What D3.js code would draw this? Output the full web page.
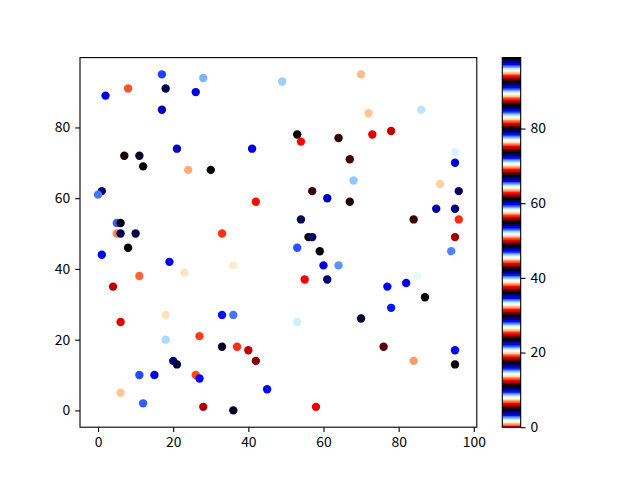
<!DOCTYPE html>
<html><head><meta charset="utf-8">
<script src="https://cdn.jsdelivr.net/npm/d3@7/dist/d3.min.js"></script>
<style>body{margin:0;background:#fff;} text{font-family:"Noto Sans CJK SC","Noto Sans",sans-serif;}</style>
</head><body>
<svg id="chart" width="640" height="480"></svg>
<script>
// data
const xs = [17,28,8,18,2,26,17,21,7,11,12,24,30,49,53,54,64,41,67,70,86,72,78,73,95,95,68,91,1,0,5,6,5,6,10,8,1,19,23,11,4,33,57,61,67,42,54,56,57,53,59,60,64,36,55,61,96,90,95,84,96,95,94,85,82,77,87,78,6,18,18,27,20,21,11,15,26,27,6,12,28,33,33,36,53,37,40,42,45,36,58,70,76,84,95,95,95];
const ys = [95,94,91,91,89,90,85,74,72,72,69,68,68,93,78,76,77,74,71,95,85,84,79,78,73,70,65,64,62,61,53,53,50,50,50,46,44,42,39,38,35,50,62,60,59,59,54,49,49,46,45,41,41,41,37,37,62,57,57,54,54,49,45,38,36,35,32,29,25,27,20,21,14,13,10,10,10,9,5,2,1,27,18,27,25,18,17,14,6,0,1,26,18,14,17,13,43];
const cs = [22.0,65.0,38.25,79.29,53.43,9.71,91.48,34.97,17.6,61.03,29.86,69.89,99,46.11,4.71,0,67.89,78.57,24.0,94.94,27.26,57.29,37.43,87.72,8.31,72.56,8.8,51.42,91.94,40.32,65.37,48.71,19.57,79.37,4.34,98.63,59.71,16.05,38.87,31.85,74.86,50.49,30.5,91.65,11.31,62.98,48.18,80.14,22.93,59.27,42.43,3.54,84.2,32.69,69.14,98.04,54.36,16.51,66.8,30.39,19.14,49.83,77.94,14.50,59.59,22.22,73.6,40.98,87.78,7.54,52.53,12.82,35.37,67.14,90.87,47.27,75.55,28.51,57.32,96.7,12.01,72.29,23.57,40.41,2.13,50.41,6.13,61.98,34.57,92.18,12.7,67.2,49.14,76.14,28.51,98.63,39.29];
const xTicks = [0,20,40,60,80,100];
const yTicks = [0,20,40,60,80];
const cTicks = [0,20,40,60,80];

// matplotlib "flag" colormap, 256-entry LUT
const N = 256;
const clip = v => Math.max(0, Math.min(1, v));
const lut = d3.range(N).map(i => {
  const x = i / (N - 1);
  const r = clip(0.75 * Math.sin((x * 31.5 + 0.25) * Math.PI) + 0.5);
  const g = clip(Math.sin(x * 31.5 * Math.PI));
  const b = clip(0.75 * Math.sin((x * 31.5 - 0.25) * Math.PI) + 0.5);
  return d3.rgb(r * 255, g * 255, b * 255).formatHex();
});
const cmin = d3.min(cs), cmax = d3.max(cs);
const cnorm = d3.scaleLinear().domain([cmin, cmax]).range([0, 1]);
const colorOf = v => lut[Math.max(0, Math.min(N - 1, Math.floor(cnorm(v) * N)))];

const svg = d3.select("#chart");
const L = 80, R = 476.8, T = 57.6, B = 427.2;
const xmin = d3.min(xs), xmax = d3.max(xs), ymin = d3.min(ys), ymax = d3.max(ys);
const xm = (xmax - xmin) * 0.05, ym = (ymax - ymin) * 0.05;
const x = d3.scaleLinear().domain([xmin - xm, xmax + xm]).range([L, R]);
const y = d3.scaleLinear().domain([ymin - ym, ymax + ym]).range([B, T]);

svg.append("g").selectAll("circle").data(xs.map((d, i) => i)).join("circle")
  .attr("cx", i => x(xs[i])).attr("cy", i => y(ys[i])).attr("r", 4.2)
  .attr("fill", i => colorOf(cs[i]));

const tl = 4.86;
const xa = svg.append("g").attr("transform", `translate(0,${B})`)
  .call(d3.axisBottom(x).tickValues(xTicks).tickSize(tl).tickPadding(4.9).tickFormat(d3.format("d")));
const ya = svg.append("g").attr("transform", `translate(${L},0)`)
  .call(d3.axisLeft(y).tickValues(yTicks).tickSize(tl).tickPadding(4.9).tickFormat(d3.format("d")));
[xa, ya].forEach(a => { a.select(".domain").remove(); a.selectAll("text").attr("font-size", 13.9).attr("fill", "#000").style("font-family", '"Noto Sans CJK SC","Noto Sans",sans-serif'); a.selectAll("line").attr("stroke", "#000").attr("stroke-width", 1.1); });
svg.append("rect").attr("x", L).attr("y", T).attr("width", R - L).attr("height", B - T)
  .attr("fill", "none").attr("stroke", "#000").attr("stroke-width", 1.1);

// colorbar
const CL = 502.3, CR = 520.7;
const cy = d3.scaleLinear().domain([cmin, cmax]).range([B, T]);
const bandVals = d3.range(N).map(i => cmin + (cmax - cmin) * i / N);
const step = (cmax - cmin) / N;
svg.append("g").selectAll("rect").data(bandVals).join("rect")
  .attr("x", CL).attr("width", CR - CL)
  .attr("y", d => cy(d + step) - 0.3).attr("height", d => cy(d) - cy(d + step) + 0.6)
  .attr("fill", (d, i) => lut[i]);
const ca = svg.append("g").attr("transform", `translate(${CR},0)`)
  .call(d3.axisRight(cy).tickValues(cTicks).tickSize(tl).tickPadding(4.9).tickFormat(d3.format("d")));
ca.select(".domain").remove();
ca.selectAll("text").attr("font-size", 13.9).attr("fill", "#000");
ca.selectAll("line").attr("stroke", "#000").attr("stroke-width", 1.1);
svg.append("rect").attr("x", CL).attr("y", T).attr("width", CR - CL).attr("height", B - T)
  .attr("fill", "none").attr("stroke", "#000").attr("stroke-width", 1.1);
</script>
</body></html>
